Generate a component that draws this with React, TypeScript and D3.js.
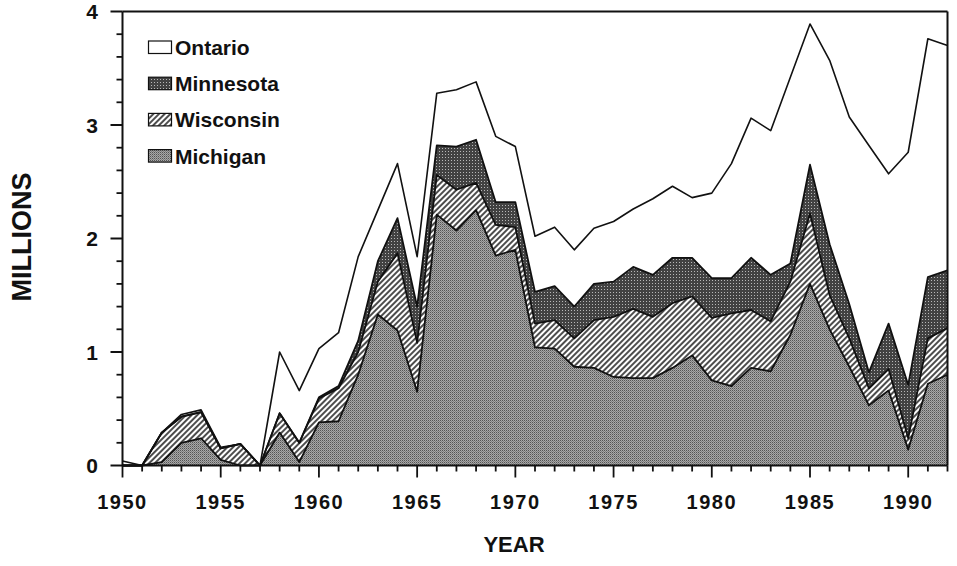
import React from "react";
import * as d3 from "d3";

const years = [
  1950, 1951, 1952, 1953, 1954, 1955, 1956, 1957, 1958, 1959,
  1960, 1961, 1962, 1963, 1964, 1965, 1966, 1967, 1968, 1969,
  1970, 1971, 1972, 1973, 1974, 1975, 1976, 1977, 1978, 1979,
  1980, 1981, 1982, 1983, 1984, 1985, 1986, 1987, 1988, 1989,
  1990, 1991, 1992,
];

const michigan = [
  0, 0, 0.03, 0.2, 0.24, 0.05, 0, 0, 0.29, 0.03,
  0.38, 0.39, 0.8, 1.33, 1.19, 0.65, 2.21, 2.07, 2.25, 1.85,
  1.9, 1.04, 1.03, 0.87, 0.86, 0.78, 0.77, 0.77, 0.86, 0.97,
  0.75, 0.7, 0.86, 0.83, 1.15, 1.6, 1.2, 0.87, 0.53, 0.66,
  0.14, 0.72, 0.8,
];

const wisconsin = [
  0, 0, 0.26, 0.23, 0.23, 0.1, 0.19, 0, 0.17, 0.17,
  0.21, 0.29, 0.2, 0.29, 0.68, 0.43, 0.35, 0.36, 0.24, 0.27,
  0.2, 0.21, 0.25, 0.25, 0.42, 0.53, 0.61, 0.54, 0.57, 0.52,
  0.55, 0.64, 0.51, 0.44, 0.47, 0.62, 0.3, 0.25, 0.15, 0.19,
  0.1, 0.4, 0.41,
];

const minnesota = [
  0, 0, 0, 0, 0, 0, 0, 0, 0, 0,
  0.01, 0.02, 0.1, 0.18, 0.31, 0.32, 0.26, 0.38, 0.38, 0.2,
  0.22, 0.28, 0.3, 0.28, 0.32, 0.31, 0.37, 0.37, 0.4, 0.34,
  0.35, 0.31, 0.46, 0.41, 0.16, 0.43, 0.45, 0.3, 0.14, 0.4,
  0.47, 0.54, 0.51,
];

const ontario = [
  0.04, 0, 0, 0.02, 0.02, 0.01, 0, 0, 0.54, 0.46,
  0.43, 0.47, 0.74, 0.45, 0.48, 0.44, 0.46, 0.5, 0.51, 0.58,
  0.49, 0.49, 0.52, 0.5, 0.49, 0.53, 0.51, 0.67, 0.63, 0.53,
  0.75, 1.01, 1.23, 1.27, 1.64, 1.24, 1.62, 1.65, 2.0, 1.32,
  2.05, 2.1, 1.98,
];

const stackKeys = ["Michigan", "Wisconsin", "Minnesota", "Ontario"];
const legendKeys = ["Ontario", "Minnesota", "Wisconsin", "Michigan"];
const xTickLabels = [1950, 1955, 1960, 1965, 1970, 1975, 1980, 1985, 1990];
const yTickLabels = [0, 1, 2, 3, 4];
const yMinorTicks = [0.2, 0.4, 0.6, 0.8, 1.2, 1.4, 1.6, 1.8, 2.2, 2.4, 2.6, 2.8, 3.2, 3.4, 3.6, 3.8];

const fills: Record<string, string> = {
  Michigan: "url(#patMich)",
  Wisconsin: "url(#patWisc)",
  Minnesota: "url(#patMinn)",
  Ontario: "#ffffff",
};

const FONT = "'Liberation Sans', Arial, Helvetica, sans-serif";

export default function App() {
  const rows = years.map((yr, i) => ({
    year: yr,
    Michigan: michigan[i],
    Wisconsin: wisconsin[i],
    Minnesota: minnesota[i],
    Ontario: ontario[i],
  }));
  const stacked = d3.stack<any>().keys(stackKeys)(rows);

  const x = d3.scaleLinear().domain([1950, 1992]).range([122.5, 947.5]);
  const y = d3.scaleLinear().domain([0, 4]).range([465.5, 11.5]);

  const area = d3
    .area<any>()
    .x((d) => x(d.data.year))
    .y0((d) => y(d[0]))
    .y1((d) => y(d[1]));
  const topLine = d3
    .line<any>()
    .x((d) => x(d.data.year))
    .y((d) => y(d[1]));

  const x0 = x.range()[0];
  const x1 = x.range()[1];
  const yb = y(0);
  const yt = y(4);

  return (
    <svg
      width={957}
      height={566}
      style={{ position: "absolute", left: 0, top: 0, background: "#fff" }}
      fontFamily={FONT}
    >
      <defs>
        <pattern id="patMich" width={2} height={2} patternUnits="userSpaceOnUse">
          <rect width={2} height={2} fill="#a8a8a8" />
          <rect x={0} y={0} width={1} height={1} fill="#545454" />
          <rect x={1} y={1} width={1} height={1} fill="#7e7e7e" />
        </pattern>
        <pattern
          id="patWisc"
          width={4}
          height={4}
          patternUnits="userSpaceOnUse"
          patternTransform="rotate(45)"
        >
          <rect width={4} height={4} fill="#ffffff" />
          <line x1={1} y1={0} x2={1} y2={4} stroke="#111" strokeWidth={1.5} />
        </pattern>
        <pattern id="patMinn" width={3} height={3} patternUnits="userSpaceOnUse">
          <rect width={3} height={3} fill="#424242" />
          <rect x={1} y={1} width={1} height={1} fill="#b8b8b8" />
        </pattern>
      </defs>

      {/* areas */}
      {stacked.map((s) => (
        <path key={s.key} d={area(s) || ""} fill={fills[s.key]} stroke="none" />
      ))}
      {/* boundary lines */}
      {stacked.map((s) => (
        <path
          key={s.key + "-line"}
          d={topLine(s) || ""}
          fill="none"
          stroke="#111"
          strokeWidth={s.key === "Ontario" ? 1.6 : 1.8}
          strokeLinejoin="round"
        />
      ))}

      {/* frame */}
      <line x1={x0} y1={yt} x2={x1} y2={yt} stroke="#111" strokeWidth={2.2} />
      <line x1={x1} y1={yt} x2={x1} y2={yb} stroke="#111" strokeWidth={2} />
      <line x1={x0} y1={yt} x2={x0} y2={yb} stroke="#111" strokeWidth={2} />
      <line x1={x0} y1={yb} x2={x1} y2={yb} stroke="#111" strokeWidth={2.2} />

      {/* y ticks */}
      {yTickLabels.map((v) => (
        <g key={"y" + v}>
          <line x1={x0 - 12} y1={y(v)} x2={x0} y2={y(v)} stroke="#111" strokeWidth={2} />
          <text
            x={98}
            y={y(v) + 7.5}
            textAnchor="end"
            fontSize={21}
            fontWeight="bold"
            fill="#111"
          >
            {v}
          </text>
        </g>
      ))}
      {yMinorTicks.map((v) => (
        <line key={"ym" + v} x1={x0 - 6} y1={y(v)} x2={x0} y2={y(v)} stroke="#111" strokeWidth={1.8} />
      ))}

      {/* x ticks */}
      {years.map((yr) => (
        <line
          key={"xm" + yr}
          x1={x(yr)}
          y1={yb}
          x2={x(yr)}
          y2={yb + (yr % 5 === 0 ? 12 : 6)}
          stroke="#111"
          strokeWidth={1.8}
        />
      ))}
      {xTickLabels.map((yr) => (
        <text
          key={"xl" + yr}
          x={x(yr)}
          y={509}
          textAnchor="middle"
          fontSize={20}
          fontWeight="bold"
          letterSpacing={1.5}
          fill="#111"
        >
          {yr}
        </text>
      ))}

      {/* axis titles */}
      <text x={514} y={552} textAnchor="middle" fontSize={22} fontWeight="bold" fill="#111">
        YEAR
      </text>
      <text
        transform="translate(31,237) rotate(-90)"
        textAnchor="middle"
        fontSize={27}
        fontWeight="bold"
        fill="#111"
      >
        MILLIONS
      </text>

      {/* legend */}
      {legendKeys.map((k, i) => {
        const base = 55 + i * 36.2;
        return (
          <g key={"lg" + k}>
            <rect
              x={148.5}
              y={base - 14}
              width={23}
              height={12.5}
              fill={fills[k]}
              stroke="#111"
              strokeWidth={1.2}
            />
            <text x={175} y={base} fontSize={21} fontWeight="bold" fill="#111">
              {k}
            </text>
          </g>
        );
      })}
    </svg>
  );
}
